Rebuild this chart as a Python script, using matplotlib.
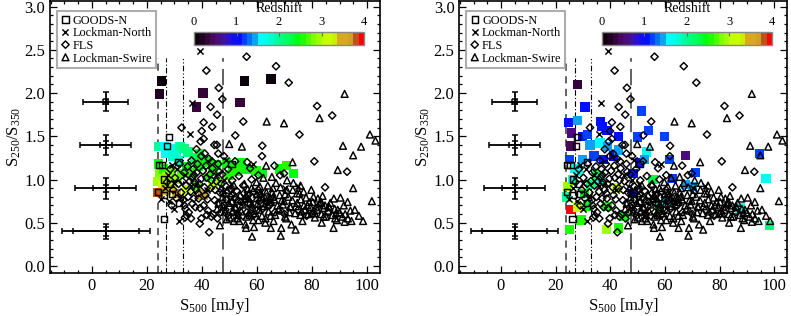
import matplotlib
matplotlib.use("Agg")
import matplotlib.pyplot as plt
import numpy as np
from matplotlib.colors import ListedColormap, Normalize
from matplotlib.cm import ScalarMappable
from matplotlib.ticker import MultipleLocator

plt.rcParams['font.family'] = ['Liberation Serif', 'DejaVu Serif']
plt.rcParams['mathtext.fontset'] = 'custom'
plt.rcParams['mathtext.rm'] = 'Liberation Serif'
plt.rcParams['mathtext.it'] = 'Liberation Serif:italic'

# ---------------- data ----------------
goods_x = [27.9, 27.4, 24.3, 25.5, 26.3, 26.2, 24.1, 26.2, 28.5, 31.5, 31.6, 29.1, 50.7]
goods_y = [1.49, 1.39, 1.17, 1.17, 1.00, 0.82, 0.86, 0.54, 0.95, 1.20, 0.73, 0.83, 1.18]

lnorth_x = [39.2, 36.5, 35.8, 30.0, 31.6, 74.7, 48.6, 25.0, 28.0, 26.5, 30.0, 34.0, 32.2, 38.2,
            45.1, 55.2, 65.2, 70.3, 58.4, 29.0, 27.5, 31.0, 42.0, 50.5, 61.5, 48.0, 36.0]
lnorth_y = [2.49, 1.88, 1.53, 0.66, 0.52, 0.93, 1.22, 0.78, 0.75, 0.90, 0.96, 1.05, 0.80, 0.96,
            1.05, 0.80, 0.75, 0.90, 1.18, 1.17, 1.05, 1.12, 0.88, 0.95, 0.86, 1.00, 0.92]

fls_x = [56.2, 41.6, 66.9, 71.5, 46.1, 47.4, 43.1, 32.6, 81.8, 87.3, 75.4, 80.8, 92.7, 84.7,
         45.5, 40.6, 39.9, 43.7, 40.6, 45.4, 55.0, 52.1, 61.9, 61.8, 66.3, 68.4, 69.8, 56.4,
         45.9, 39.8, 42.6, 43.4, 39.2, 33.8,
         33.5, 34.8, 35.6, 36.2, 37.1, 37.9, 38.4, 39.0, 39.8, 40.3, 41.2, 41.7, 42.5, 43.1,
         43.8, 44.6, 45.2, 45.9, 46.5, 47.3, 48.1, 48.8, 49.5, 50.3, 51.0, 51.8, 52.6, 53.4,
         54.2, 55.0, 56.3, 57.1, 58.0, 59.2, 60.4, 62.0, 63.5, 35.0, 36.5, 34.0, 35.2, 37.6,
         38.8, 40.6, 42.2, 44.0, 46.8, 49.6, 31.5, 32.4, 33.2, 38.0, 41.0, 44.5, 39.5, 36.8,
         42.9, 47.0, 50.9, 55.6, 53.0, 58.5, 61.0, 64.5, 66.5, 70.0, 75.0, 78.0, 82.0, 86.0,
         52.0, 48.0, 57.5, 60.5, 28.5, 30.2, 31.8, 29.6, 32.9, 27.3, 30.8, 33.6, 34.5, 36.0, 29.0,
         34.2, 35.9, 37.3, 38.6, 39.7, 40.9, 42.0, 43.4, 44.8, 46.0, 47.7, 49.0, 50.6, 52.2,
         53.7, 55.3, 56.8, 58.3, 59.8, 36.4, 38.1, 41.5, 43.6, 46.2, 37.0, 39.3, 41.8, 45.6,
         48.5, 51.4, 54.8, 57.7]
fls_y = [2.42, 2.26, 2.31, 2.12, 2.06, 1.93, 1.84, 1.60, 1.85, 1.74, 1.52, 1.21, 1.09, 0.91,
         1.75, 1.66, 1.56, 1.61, 1.47, 1.40, 1.67, 1.51, 1.39, 1.27, 1.16, 1.05, 1.07, 1.20,
         1.30, 0.55, 0.39, 0.57, 0.49, 0.56,
         1.08, 1.15, 0.98, 1.22, 1.05, 0.88, 1.18, 0.95, 1.27, 1.10, 0.82, 1.02, 1.24, 0.90,
         1.13, 0.76, 0.98, 1.18, 0.85, 1.06, 0.70, 0.92, 1.12, 0.80, 0.99, 0.66, 0.87, 1.04,
         0.74, 0.93, 0.62, 0.83, 1.00, 0.71, 0.88, 0.66, 0.80, 0.80, 0.72, 0.66, 0.62, 0.68,
         0.78, 0.70, 0.64, 0.60, 0.62, 0.58, 0.95, 0.85, 0.76, 1.35, 1.30, 1.40, 1.44, 1.12,
         1.06, 0.95, 0.73, 0.77, 0.60, 0.58, 0.75, 0.70, 0.62, 0.60, 0.65, 0.58, 0.68, 0.62,
         1.21, 1.27, 1.13, 1.05, 1.12, 1.02, 1.18, 0.88, 0.98, 0.97, 0.78, 0.70, 0.58, 0.55, 0.70,
         0.93, 0.86, 0.97, 0.84, 1.01, 0.91, 0.77, 0.99, 0.88, 0.73, 0.84, 0.77, 0.88, 0.79,
         0.69, 0.84, 0.72, 0.79, 0.64, 1.02, 1.08, 1.16, 1.21, 1.09, 0.78, 0.67, 0.59, 0.55,
         0.65, 0.62, 0.58, 0.61]

lswire_x = [91.8, 82.7, 63.5, 69.8, 101.0, 103.0, 97.8, 91.2, 94.9, 49.9, 54.5, 72.9, 63.3, 89.3,
            65.4, 73.2, 94.9, 101.7, 90.3, 92.9, 83.3, 93.9, 94.3, 91.8, 87.8, 83.5, 81.0, 78.3,
            72.0, 68.8, 68.6, 65.0, 74.0, 58.2, 56.0, 46.5, 63.1, 58.6, 51.6, 52.8, 70.2, 75.7,
            79.9, 84.2, 88.4, 58.0, 61.1, 63.5, 65.9, 69.0, 70.8, 74.5, 76.9, 80.5, 83.0, 86.0, 89.3,
            46.0, 47.5, 48.3, 49.2, 50.0, 50.8, 51.6, 52.3, 53.1, 53.9, 54.7, 55.4, 56.2, 57.0,
            57.8, 58.6, 59.4, 60.2, 61.0, 61.8, 62.6, 63.4, 64.2, 65.0, 65.8, 66.6, 67.4, 68.2,
            69.0, 69.8, 70.6, 71.4, 72.2, 73.0, 73.8, 74.6, 75.4, 76.2, 77.0, 77.8, 78.6, 79.4,
            80.2, 81.0, 81.8, 82.6, 83.4, 84.2, 85.0, 85.8, 86.6, 87.4, 88.2, 89.0, 90.0, 91.0,
            92.0, 93.0, 55.8, 58.9, 63.0, 66.0, 60.5, 72.5, 76.5, 53.5, 49.0, 47.0, 51.0, 59.8,
            62.3, 66.9, 70.9, 63.9, 68.5, 45.5, 57.4, 64.8, 75.8, 79.7, 83.8, 87.9, 91.5, 95.5,
            97.0, 98.5,
            47.9, 49.7, 51.3, 52.9, 54.3, 55.9, 57.3, 58.1, 59.9, 60.8, 62.1, 63.8, 64.9, 66.2,
            67.9, 69.4, 70.2, 71.8, 72.8, 74.1, 75.9, 77.3, 78.9, 80.6, 82.1, 84.7, 86.2, 88.7,
            56.6, 61.4, 65.5]
lswire_y = [1.99, 1.71, 1.67, 1.65, 1.52, 1.45, 1.38, 1.39, 1.28, 1.41, 1.38, 1.20, 1.16, 1.11,
            1.03, 0.96, 0.90, 0.75, 0.79, 0.74, 0.74, 0.64, 0.52, 0.51, 0.44, 0.50, 0.61, 0.70,
            0.69, 0.44, 0.35, 0.44, 0.42, 0.34, 0.44, 0.47, 0.55, 0.53, 0.52, 0.55, 0.57, 0.59,
            0.61, 0.57, 0.55, 0.90, 0.84, 0.76, 0.80, 0.76, 0.88, 0.84, 0.86, 0.80, 0.73, 0.69, 0.65,
            0.72, 0.80, 0.63, 0.88, 0.56, 0.75, 0.93, 0.68, 0.59, 0.82, 0.71, 0.95, 0.57, 0.78,
            0.66, 0.87, 0.61, 0.72, 0.92, 0.58, 0.69, 0.85, 0.63, 0.74, 0.90, 0.59, 0.70, 0.82,
            0.64, 0.75, 0.55, 0.80, 0.68, 0.88, 0.61, 0.73, 0.84, 0.63, 0.70, 0.79, 0.60, 0.68,
            0.74, 0.56, 0.65, 0.72, 0.60, 0.67, 0.57, 0.64, 0.73, 0.59, 0.66, 0.53, 0.62, 0.57,
            0.60, 0.55, 0.48, 0.45, 0.50, 0.52, 0.53, 0.48, 0.52, 0.52, 0.54, 0.90, 0.84, 0.97,
            1.02, 0.96, 0.99, 0.93, 0.91, 0.66, 0.74, 0.79, 0.93, 0.88, 0.81, 0.78, 0.70, 0.65,
            0.58, 0.52,
            0.68, 0.73, 0.64, 0.77, 0.63, 0.81, 0.59, 0.71, 0.83, 0.65, 0.78, 0.71, 0.58, 0.77,
            0.66, 0.71, 0.83, 0.62, 0.76, 0.69, 0.77, 0.65, 0.74, 0.64, 0.78, 0.70, 0.68, 0.61,
            0.89, 0.80, 0.85]

# colored squares, left panel (x, ratio, redshift)
left_cx = [25.4, 24.6, 40.4, 38.0, 55.4, 65.1, 53.8,
           24.3, 26.4, 28.5, 30.5, 32.0, 27.0, 29.5, 33.5, 35.0, 37.3, 39.2, 31.5,
           24.6, 24.0, 24.3, 26.0, 27.3, 28.8, 25.8, 29.4, 31.0, 32.5, 34.3, 34.3, 36.0, 38.0,
           38.5, 40.0, 42.2, 42.0, 44.0, 45.3, 46.5, 48.9, 50.0, 51.3, 53.0, 54.4, 56.0, 59.6,
           62.0, 68.1, 70.6, 73.2, 44.0,
           24.0, 30.7, 40.4, 27.0]
left_cy = [2.14, 1.99, 2.00, 1.84, 2.14, 2.16, 1.89,
           1.38, 1.38, 1.36, 1.33, 1.38, 1.30, 1.27, 1.36, 1.32, 1.25, 1.30, 1.22,
           1.07, 0.98, 1.18, 1.12, 1.03, 1.09, 0.93, 0.94, 1.00, 1.07, 1.15, 0.88, 1.08, 0.92,
           1.15, 1.20, 1.21, 1.02, 1.10, 1.17, 0.98, 1.19, 1.05, 1.15, 1.09, 1.20, 1.12, 1.10,
           1.07, 1.12, 1.16, 1.07, 0.93,
           0.85, 0.84, 0.82, 0.88]
left_cz = [0.10, 0.15, 0.25, 0.30, 0.05, 0.10, 0.35,
           1.95, 1.60, 1.65, 1.70, 1.90, 1.60, 1.75, 2.00, 2.10, 2.20, 2.30, 1.85,
           2.80, 2.95, 2.40, 2.60, 2.90, 2.85, 3.05, 3.10, 2.90, 2.70, 2.40, 3.10, 2.60, 2.70,
           2.50, 2.40, 2.45, 2.60, 2.50, 2.40, 2.80, 2.45, 2.60, 2.40, 2.50, 2.40, 2.45, 2.50,
           2.40, 2.45, 2.50, 2.40, 3.00,
           3.80, 3.50, 3.40, 3.40]

# colored squares, right panel (x, ratio, redshift)
right_cx = [28.1, 30.7, 24.7, 28.1, 36.5, 37.0, 38.8, 25.9, 25.7, 29.9, 31.7, 32.6, 36.2, 39.1,
            43.0, 49.9, 51.4, 54.1, 53.2, 59.8, 67.6, 61.6, 62.8, 71.2, 67.6, 70.0, 94.6, 97.0,
            98.2, 87.4, 25.7, 25.1, 29.3, 28.1, 38.6, 43.0, 45.1, 23.9, 24.5, 26.3, 26.9, 25.0,
            29.9, 34.1, 37.6, 41.2, 43.0, 48.4, 50.8, 52.6, 55.6, 48.4, 60.4, 58.0, 30.5, 32.9,
            36.5, 42.4, 31.7, 38.8, 28.5, 35.0]
right_cy = [2.10, 1.84, 1.66, 1.68, 1.67, 1.61, 1.57, 1.54, 1.39, 1.50, 1.52, 1.40, 1.42, 1.38,
            1.50, 1.49, 1.79, 1.57, 1.32, 1.50, 1.28, 1.23, 1.01, 1.08, 0.94, 0.92, 1.30, 1.01,
            0.47, 0.67, 0.65, 0.42, 0.53, 0.68, 0.42, 0.44, 0.57, 0.80, 0.92, 1.00, 1.13, 1.23,
            1.23, 1.27, 1.23, 1.27, 1.34, 1.07, 1.19, 1.23, 1.00, 0.84, 0.76, 0.67, 0.84, 0.94,
            1.00, 0.90, 0.69, 0.69, 1.10, 1.05]
right_cz = [0.30, 1.10, 1.10, 1.40, 1.10, 1.05, 1.10, 0.60, 0.40, 1.10, 1.15, 1.40, 1.60, 1.40,
            1.10, 1.20, 1.15, 1.20, 1.65, 1.20, 0.60, 1.20, 1.15, 1.15, 1.45, 1.45, 1.20, 1.70,
            2.00, 1.70, 3.90, 2.60, 2.60, 3.00, 2.95, 2.50, 2.40, 1.95, 2.95, 1.70, 1.65, 1.15,
            1.40, 1.15, 1.10, 1.10, 1.40, 1.10, 1.10, 1.40, 2.30, 1.10, 1.45, 2.30, 2.40, 2.00,
            1.60, 3.05, 2.40, 2.40, 1.70, 2.20]

# representative error bars (x, ratio, outer/inner errors)
err_x = [5, 5, 5, 5]
err_y = [1.9, 1.4, 0.9, 0.4]
err_xo = [8.2, 9.2, 11.2, 16.0]
err_xi = [1.0, 2.2, 4.7, 12.0]
err_yo = [0.11, 0.115, 0.12, 0.09]
err_yi = [0.03, 0.04, 0.04, 0.05]

cut_lines = [24.0, 27.0, 33.0, 47.5]
z_ticks = [0, 1, 2, 3, 4]

# stepped IDL-like rainbow colour table (32 steps over z = 0..4)
z_colors = ['#0d000d', '#200020', '#35053a', '#45085a', '#4a0a80', '#4010a0', '#2a10c8', '#1010e8',
            '#0010ff', '#0040ff', '#0070f0', '#10a0f0', '#00ffff', '#00fff0', '#00ffd0', '#00ffa0',
            '#00ff80', '#00ff60', '#00ff40', '#00ff10', '#20ff00', '#50ff00', '#80ff00', '#a0ff00',
            '#c8ff00', '#c8ff00', '#c8f000', '#d8a820', '#d8a820', '#d0a020', '#c05020', '#ff0000']
cmap = ListedColormap(z_colors)
norm = Normalize(0, 4)

# ---------------- figure ----------------
fig = plt.figure(figsize=(7.91, 3.16), dpi=100)
ax_pos = [[0.0632, 0.135, 0.417, 0.862], [0.5807, 0.135, 0.414, 0.862]]
cb_pos = [[0.2453, 0.8576, 0.2149, 0.0411], [0.7610, 0.8576, 0.2149, 0.0411]]
panels = [(left_cx, left_cy, left_cz), (right_cx, right_cy, right_cz)]

ms = 20
mew = 1.05
for k in range(2):
    ax = fig.add_axes(ax_pos[k])
    cx, cy, cz = panels[k]
    ax.scatter(cx, cy, c=cz, cmap=cmap, norm=norm, marker='s', s=46, linewidths=0, zorder=2)

    ax.scatter(goods_x, goods_y, marker='s', s=ms, facecolors='none', edgecolors='k',
               linewidths=mew, zorder=3, label='GOODS-N')
    ax.scatter(lnorth_x, lnorth_y, marker='x', s=ms, c='k', linewidths=mew, zorder=3,
               label='Lockman-North')
    ax.scatter(fls_x, fls_y, marker='D', s=ms * 0.7, facecolors='none', edgecolors='k',
               linewidths=mew, zorder=3, label='FLS')
    ax.scatter(lswire_x, lswire_y, marker='^', s=ms * 1.2, facecolors='none', edgecolors='k',
               linewidths=mew, zorder=3, label='Lockman-Swire')

    for i in range(len(err_x)):
        ax.errorbar(err_x[i], err_y[i], xerr=err_xo[i], yerr=err_yo[i], fmt='none', ecolor='k',
                    elinewidth=1.3, capsize=2.5, capthick=1.1, zorder=4)
        ax.errorbar(err_x[i], err_y[i], xerr=err_xi[i], yerr=err_yi[i], fmt='none', ecolor='k',
                    elinewidth=1.3, capsize=2.0, capthick=1.1, zorder=4)

    ybot = -0.085
    ax.vlines(cut_lines[0], ybot, 2.4, colors='#555555', linestyles=(0, (4, 3)), linewidth=1.3, zorder=1)
    ax.vlines(cut_lines[1], ybot, 2.4, colors='k', linestyles=(0, (5, 2, 1, 2)), linewidth=0.8, zorder=1)
    ax.vlines(cut_lines[2], ybot, 2.4, colors='k', linestyles=(0, (5, 2, 1, 2, 1, 2)), linewidth=0.8, zorder=1)
    ax.vlines(cut_lines[3], ybot, 2.4, colors='#555555', linestyles=(0, (9, 4)), linewidth=1.3, zorder=1)

    ax.set_xlim(-15.2, 104.6)
    ax.set_ylim(ybot, 3.065)
    ax.xaxis.set_major_locator(MultipleLocator(20))
    ax.xaxis.set_minor_locator(MultipleLocator(5))
    ax.yaxis.set_major_locator(MultipleLocator(0.5))
    ax.yaxis.set_minor_locator(MultipleLocator(0.1))
    ax.tick_params(which='both', direction='in', top=True, right=True, labelsize=12, width=0.9)
    ax.tick_params(which='major', length=5)
    ax.tick_params(which='minor', length=2.5)
    ax.set_yticks([0, 0.5, 1.0, 1.5, 2.0, 2.5, 3.0])
    ax.set_yticklabels(['0.0', '0.5', '1.0', '1.5', '2.0', '2.5', '3.0'])
    for sp in ax.spines.values():
        sp.set_linewidth(1.2)
    ax.set_xlabel(r'S$_\mathrm{500}$ [mJy]', fontsize=12, labelpad=1)
    ax.set_ylabel(r'S$_\mathrm{250}$/S$_\mathrm{350}$', fontsize=12, labelpad=1)

    leg = ax.legend(loc='upper left', bbox_to_anchor=(0.021, 0.963), borderaxespad=0,
                    fontsize=8.8, frameon=True, fancybox=False, handletextpad=0.2,
                    handlelength=0.8, borderpad=0.3, labelspacing=0.05, scatteryoffsets=[0.5])
    leg.get_frame().set_edgecolor('#999999')
    leg.get_frame().set_linewidth(1.5)

    cax = fig.add_axes(cb_pos[k])
    cb = fig.colorbar(ScalarMappable(norm=norm, cmap=cmap), cax=cax, orientation='horizontal',
                      ticks=z_ticks)
    cax.xaxis.set_ticks_position('top')
    cax.xaxis.set_label_position('top')
    cax.tick_params(labelsize=9, length=3, direction='in', color='#666666', pad=3)
    cb.set_label('Redshift', fontsize=10, labelpad=3)
    cb.outline.set_edgecolor('#888888')
    cb.outline.set_linewidth(1.0)

fig.savefig('out.png', dpi=100)
